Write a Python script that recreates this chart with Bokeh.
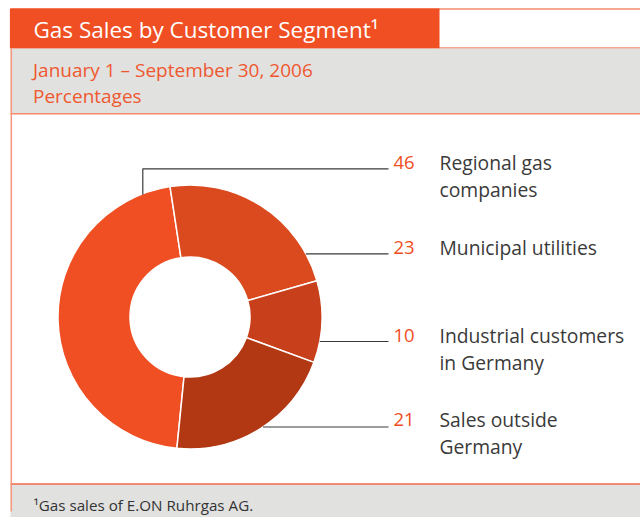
import numpy as np
from bokeh.plotting import figure
from bokeh.models import Range1d
from bokeh.core.properties import value
from bokeh.embed import file_html
from bokeh.resources import INLINE

# ---- data ----
title = "Gas Sales by Customer Segment\u00b9"
subtitle_lines = ["January 1 \u2013 September 30, 2006", "Percentages"]
footnote = "\u00b9Gas sales of E.ON Ruhrgas AG."
categories = ["Regional gas\ncompanies", "Municipal utilities",
              "Industrial customers\nin Germany", "Sales outside\nGermany"]
shares = [46, 23, 10, 21]
slice_colors = ["#F04F23", "#DA4A1E", "#C8401B", "#B23813"]

FONT = value("Open Sans")
ORANGE = "#F04E23"
SALMON = "#F26B47"
GRAY = "#E1E1E0"
TEXT = "#3A3A3A"

W, H = 640, 517
p = figure(width=W, height=H, x_range=Range1d(0, W), y_range=Range1d(-H, 0),
           output_backend="svg", toolbar_location=None, min_border=0)
p.axis.visible = False
p.grid.visible = False
p.outline_line_color = None
p.background_fill_color = "white"
p.border_fill_color = "white"

def Y(v):
    return -v

# ---- frame ----
p.quad(left=[10], right=[645], top=[Y(8.5)], bottom=[Y(47.5)], fill_color="white",
       line_color=ORANGE, line_width=1.2)
p.quad(left=[10], right=[439], top=[Y(8)], bottom=[Y(48)], fill_color=ORANGE, line_color=None)
p.quad(left=[10], right=[645], top=[Y(48)], bottom=[Y(113)], fill_color=GRAY, line_color=None)
p.segment(x0=[10], y0=[Y(113.3)], x1=[645], y1=[Y(113.3)], line_color="#F58A6B", line_width=1.5)
p.quad(left=[10], right=[645], top=[Y(483.5)], bottom=[Y(520)], fill_color=GRAY, line_color=None)
p.segment(x0=[10], y0=[Y(483.5)], x1=[645], y1=[Y(483.5)], line_color=SALMON, line_width=1.5)
p.segment(x0=[10.8], y0=[Y(48)], x1=[10.8], y1=[Y(511)], line_color="#F7967A", line_width=1.5)

# ---- titles ----
p.text(x=[33], y=[Y(28.5)], text=[title], text_font=FONT, text_font_size="22.5px",
       text_color="white", text_baseline="middle", text_align="left")
p.text(x=[32.5, 32.5], y=[Y(69.5), Y(95.5)], text=subtitle_lines, text_font=FONT,
       text_font_size="19px", text_color="#F0582F", text_baseline="middle", text_align="left")
p.text(x=[33], y=[Y(504)], text=[footnote], text_font=FONT, text_font_size="15.2px",
       text_color="#333333", text_baseline="middle", text_align="left")

# ---- donut ----
cx, cy = 189.5, Y(316.5)
start0 = np.radians(264.3)
cum = np.concatenate([[0], np.cumsum(shares)])
starts = start0 - cum[:-1] / cum[-1] * 2 * np.pi
ends = start0 - cum[1:] / cum[-1] * 2 * np.pi
p.annular_wedge(x=cx, y=cy, inner_radius=60, outer_radius=132,
                start_angle=list(starts), end_angle=list(ends), direction="clock",
                fill_color=slice_colors, line_color="white", line_width=1.5)

# ---- leader lines ----
leader_y = [168.3, 253.3, 341, 426.5]
xs, ys = [], []
for ly in leader_y:
    dy = (316.5 - ly)
    if ly == leader_y[0]:
        x0 = 142.3
        y_on = 316.5 - np.sqrt(132 ** 2 - (x0 - 189.5) ** 2)
        xs.append([x0, x0, 388])
        ys.append([Y(y_on + 1), Y(ly), Y(ly)])
    else:
        x0 = 189.5 + np.sqrt(132 ** 2 - dy ** 2)
        xs.append([x0, 388])
        ys.append([Y(ly), Y(ly)])
p.multi_line(xs=xs, ys=ys, line_color="#3A3A3A", line_width=1.2)

# ---- labels ----
label_y = [161.5, 247.3, 335, 419.3]
p.text(x=[393] * 4, y=[Y(v) for v in label_y], text=[str(s) for s in shares],
       text_font=FONT, text_font_size="18.5px", text_color=ORANGE,
       text_baseline="middle", text_align="left")
lx, lyy, lt = [], [], []
for cat, y0 in zip(categories, label_y):
    for i, line in enumerate(cat.split("\n")):
        lx.append(439)
        lyy.append(Y(y0 + i * 27))
        lt.append(line)
p.text(x=lx, y=lyy, text=lt, text_font=FONT, text_font_size="19.3px", text_color=TEXT,
       text_baseline="middle", text_align="left")

open("out.html", "w").write(file_html(p, INLINE))
